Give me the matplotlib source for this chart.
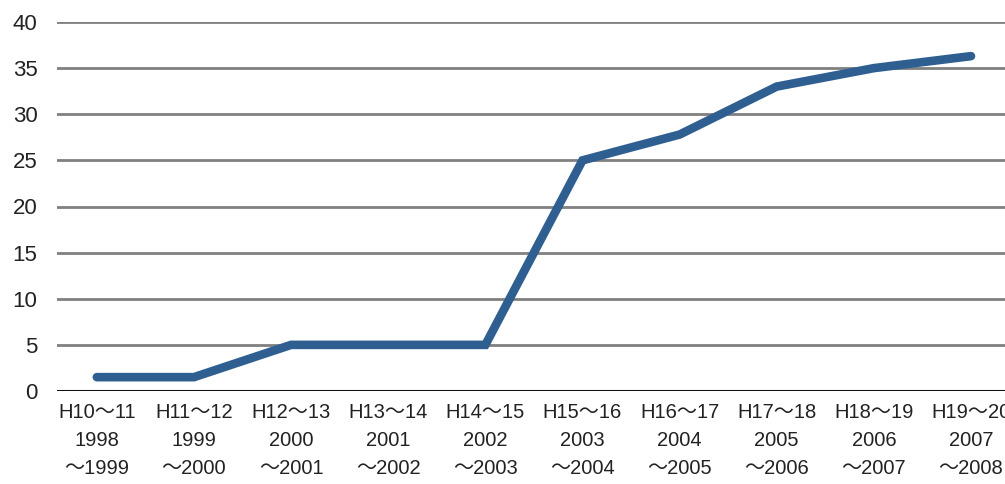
import matplotlib
matplotlib.use("Agg")
import matplotlib.pyplot as plt

periods_h = ["H10〜11", "H11〜12", "H12〜13", "H13〜14", "H14〜15",
             "H15〜16", "H16〜17", "H17〜18", "H18〜19", "H19〜20"]
years_start = ["1998", "1999", "2000", "2001", "2002",
               "2003", "2004", "2005", "2006", "2007"]
years_end = ["〜1999", "〜2000", "〜2001", "〜2002", "〜2003",
             "〜2004", "〜2005", "〜2006", "〜2007", "〜2008"]
values = [1.5, 1.5, 5, 5, 5, 25, 27.8, 33, 35, 36.3]
yticks = [0, 5, 10, 15, 20, 25, 30, 35, 40]

fam = ["Liberation Sans", "Noto Sans CJK JP", "DejaVu Sans"]
plt.rcParams["font.family"] = fam

W, H = 1005, 484
fig = plt.figure(figsize=(W / 100, H / 100), dpi=100)
left, right = 57 / W, 1.0
bottom, top = 1 - 391 / H, 1 - 22 / H
ax = fig.add_axes([left, bottom, right - left, top - bottom])

x = list(range(len(values)))
ax.set_xlim(-0.41, 9.35)
ax.set_ylim(0, 40)

for t in yticks[1:]:
    ax.axhline(t, color="#808080", lw=2.0, zorder=1)
ax.axhline(0, color="#111111", lw=2.2, zorder=1)

ax.plot(x, values, color="#2f5f91", lw=6.2, solid_capstyle="round",
        solid_joinstyle="miter", zorder=3, clip_on=False)

for s in ax.spines.values():
    s.set_visible(False)
ax.set_yticks(yticks)
ax.set_yticklabels([str(t) for t in yticks], fontsize=16, color="#222222")
ax.tick_params(axis="y", length=0, pad=14)
ax.set_xticks(x)
labels = [f"{a}\n{b}\n{c}" for a, b, c in zip(periods_h, years_start, years_end)]
ax.set_xticklabels(labels, fontsize=14.5, color="#222222", linespacing=1.6)
ax.tick_params(axis="x", length=0, pad=9)

fig.savefig("out.png", dpi=100)
